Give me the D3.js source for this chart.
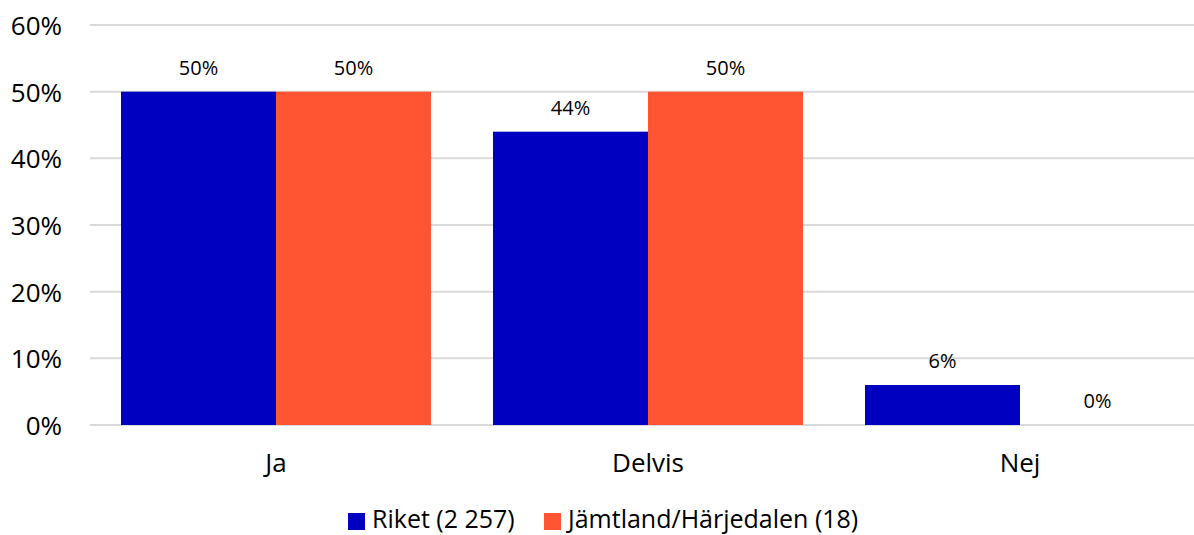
<!DOCTYPE html>
<html><head><meta charset="utf-8">
<script src="https://cdn.jsdelivr.net/npm/d3@7"></script>
<style>body{margin:0;background:#fff;} svg{display:block;}</style>
</head><body>
<svg id="c" width="1194" height="535"></svg>
<script>
const categories = ["Ja", "Delvis", "Nej"];
const seriesNames = ["Riket (2 257)", "Jämtland/Härjedalen (18)"];
const riket = [50, 44, 6];
const jamtland = [50, 50, 0];
const yTicks = [0, 10, 20, 30, 40, 50, 60];
const colors = ["#0000c0", "#ff5533"];

const svg = d3.select("#c");
const W = 1194;
const x = d3.scaleBand().domain(categories).range([90, 1206]).paddingInner(1/6).paddingOuter(1/12);
const xs = d3.scaleBand().domain([0,1]).range([0, x.bandwidth()]);
const y = d3.scaleLinear().domain([0, 60]).range([425, 25]);
const font = "Open Sans, sans-serif";

// gridlines
svg.append("g").selectAll("line").data(yTicks).join("line")
  .attr("x1", 90).attr("x2", W)
  .attr("y1", d => y(d)).attr("y2", d => y(d))
  .attr("stroke", "#d9d9d9").attr("stroke-width", 2);

// y axis labels
const yAxis = d3.axisLeft(y).tickValues(yTicks).tickFormat(d => d + "%").tickSize(0).tickPadding(0);
const ya = svg.append("g").attr("transform", "translate(62,0)").call(yAxis);
ya.select(".domain").remove();
ya.selectAll("text").attr("font-family", font).attr("font-size", 26).attr("fill", "#000").attr("dy", "0.36em");

const series = [riket, jamtland];
series.forEach((vals, si) => {
  svg.append("g").selectAll("rect").data(vals).join("rect")
    .attr("x", (d, i) => x(categories[i]) + xs(si))
    .attr("width", xs.bandwidth())
    .attr("y", d => y(d))
    .attr("height", d => y(0) - y(d))
    .attr("fill", colors[si]);
  svg.append("g").selectAll("text").data(vals).join("text")
    .attr("x", (d, i) => x(categories[i]) + xs(si) + xs.bandwidth() / 2)
    .attr("y", d => y(d) - 17)
    .attr("text-anchor", "middle")
    .attr("font-family", font).attr("font-size", 20).attr("fill", "#000")
    .text(d => d + "%");
});

// x axis labels
const xAxis = d3.axisBottom(x).tickSize(0).tickPadding(0);
const xa = svg.append("g").attr("transform", "translate(0,472)").call(xAxis);
xa.select(".domain").remove();
xa.selectAll("text").attr("font-family", font).attr("font-size", 26).attr("fill", "#000").attr("dy", "0");

// legend
const legX = [348, 544];
const lg = svg.append("g");
seriesNames.forEach((n, i) => {
  lg.append("rect").attr("x", legX[i]).attr("y", 513).attr("width", 17).attr("height", 17).attr("fill", colors[i]);
  lg.append("text").attr("x", legX[i] + 24).attr("y", 528)
    .attr("font-family", font).attr("font-size", 25).attr("fill", "#000").text(n);
});
</script>
</body></html>
